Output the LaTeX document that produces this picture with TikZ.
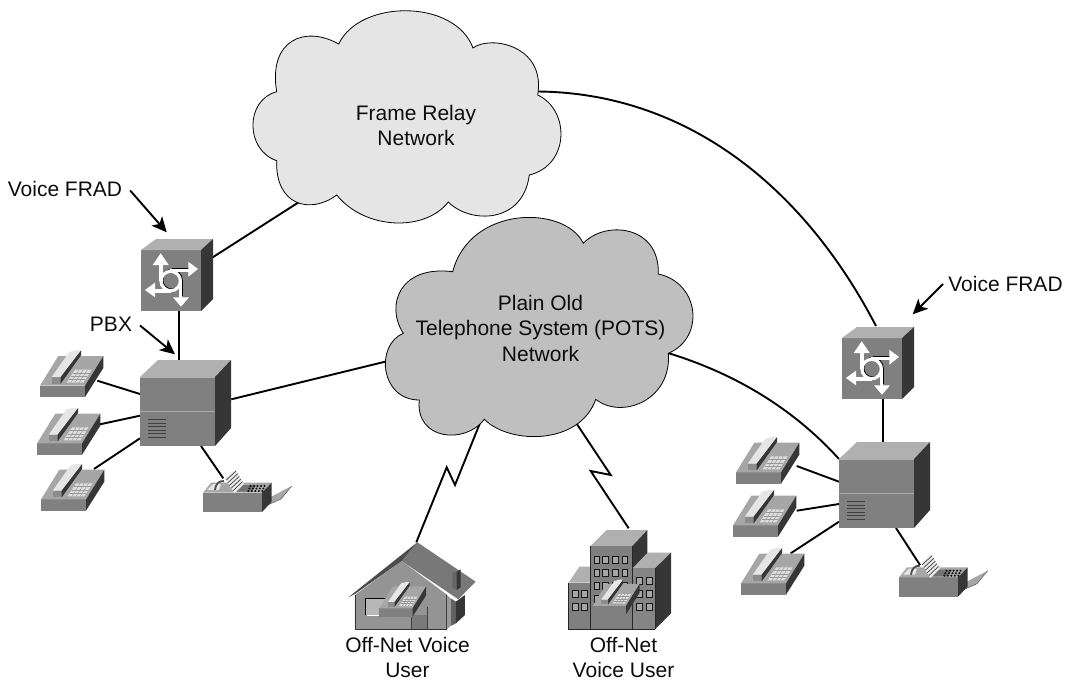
\documentclass[tikz,border=0pt]{standalone}
\usepackage{fontspec}
\setmainfont{Liberation Sans}
\usetikzlibrary{arrows.meta,backgrounds}
\definecolor{cfront}{HTML}{808080}
\definecolor{ctop}{HTML}{B0B0B0}
\definecolor{cside}{HTML}{363636}
\definecolor{cphone}{HTML}{A6A6A6}
\tikzset{
  wire/.style={line width=1.9pt,black},
  callout/.style={line width=1.9pt,black,-{Stealth[length=15pt,width=14pt,inset=4pt]}},
  cloudshape/.style={draw=black,line width=0.8pt},
  txt/.style={font=\fontsize{21}{25.5}\selectfont,align=center,inner sep=0pt,outer sep=0pt,text=black!95},
  dev/.style 2 args={minimum width=#1pt,minimum height=#2pt,anchor=north west,inner sep=0pt,outer sep=0pt},
  devsw/.style 2 args={minimum width=#1pt,minimum height=#2pt,anchor=south west,inner sep=0pt,outer sep=0pt},
  phoneicon/.pic={
    \fill[cfront] (0,-11.3) rectangle (45,0);
    \fill[cphone] (0,-11.3)--(45,-11.3)--(63.3,-41)--(18.3,-41)--cycle;
    \fill[cside] (45,-11.3)--(63.3,-41)--(63.3,-29)--(45,0)--cycle;
    \fill[black!13] (26.7,-14.3)--(43.3,-14.3)--(51.6,-27.3)--(35,-27.3)--cycle;
    \foreach \t in {0.25,0.5,0.75}{
      \draw[black!40,line width=0.45pt] (26.7+8.3*\t,-14.3-13*\t)--(43.3+8.3*\t,-14.3-13*\t);
      \draw[black!40,line width=0.45pt] (26.7+16.6*\t,-14.3)--(35+16.6*\t,-27.3);
    }
    \fill[black!45] (11.7,-20)--(20.7,-20)--(20.7,-13.3)--(11.7,-13.3)--cycle;
    \fill[black!10] (11.7,-20)--(29.3,-45)--(36.7,-47)--(41,-46.5)--(20.7,-20)--cycle;
    \fill[cside] (20.7,-20)--(41,-46.5)--(41,-41.7)--(20.7,-13.3)--cycle;
  },
  faxicon/.pic={
    \fill[black!35] (60,-5)--(60,-11)--(88.7,-26)--(78,-13)--cycle;
    \draw[black!65,line width=0.5pt] (60,-5)--(78,-13)--(88.7,-26);
    \fill[cfront] (0,-19.3) rectangle (59,0);
    \fill[cphone] (0,-19.3)--(59,-19.3)--(68.7,-29.3)--(8,-29.3)--cycle;
    \fill[cside] (59,-19.3)--(68.7,-29.3)--(68.7,-10.3)--(59,0)--cycle;
    \fill[black!55] (38,-27)--(53,-27)--(49,-20.3)--(34,-20.3)--cycle;
    \fill[black!10] (4,-22)--(10,-28)--(18,-28)--(16,-22)--cycle;
    \draw[black!70,line width=1.8pt] (12,-22) .. controls (13,-29) and (16,-31) .. (21,-31);
    \fill[black!8] (22,-33.7)--(32,-42.7)--(41,-28)--(31.3,-18.7)--cycle;
    \foreach \t in {0.12,0.3,0.48,0.66,0.84}{
      \draw[black!75,line width=0.7pt] (22+9.3*\t,-33.7+15*\t)--(32+9*\t,-42.7+14.7*\t);
    }
    \foreach \r in {0,1,2}{\foreach \c in {0,1,2,3,4}{
      \fill[black] (47.5+\c*3.5-\r*1.1,-26+\r*2.5) circle (1.05pt);
    }}
  },
  pbxicon/.pic={
    \fill[cfront] (0,0) rectangle (75,69);
    \fill[ctop] (0,0)--(18,-17)--(91,-17)--(75,0)--cycle;
    \fill[cside] (75,0)--(91,-17)--(91,51)--(75,69)--cycle;
    \draw[black!30,line width=0.6pt] (0,0)--(75,0);
    \draw[black!33,line width=1pt] (0,34.5)--(75,34.5);
    \foreach \v in {42.5,46,49.5,53,56.5,60}{\draw[black!75,line width=0.8pt] (8,\v)--(26,\v);}
  },
  frouter/.pic={
    \fill[cfront] (0,0) rectangle (60,61);
    \fill[ctop] (0,0)--(15,-11)--(72,-11)--(60,0)--cycle;
    \fill[cside] (60,0)--(72,-11)--(72,49)--(60,61)--cycle;
    \begin{scope}[shift={(0.9,-0.8)}]
      \draw[black,line width=2.8pt] (20,16)--(20,31) (30,20.5)--(47,20.5) (14,41)--(30,41) (39.5,31)--(39.5,47);
      \draw[black,line width=2.8pt] (29.7,31) circle (9.7pt);
    \end{scope}
    \draw[white,line width=3.2pt] (20,14)--(20,31) (29,20.5)--(48,20.5) (13,41)--(30,41) (39.5,31)--(39.5,48);
    \draw[white,line width=3.2pt] (29.7,31) circle (9.7pt);
    \fill[white] (19.7,3.3)--(27.7,15)--(11.7,15)--cycle;
    \fill[white] (57,19)--(47.3,11.7)--(47.3,26.7)--cycle;
    \fill[white] (4,40)--(14,32.7)--(14,47.3)--cycle;
    \fill[white] (40,56.7)--(32,47.3)--(48,47.3)--cycle;
  },
  houseicon/.pic={
    \begin{scope}[scale=1/3,shift={(-55,-187)}]
      \fill[black!42] (75,345)--(215,243)--(352,345)--(352,448)--(75,448)--cycle;
      \fill[black!40] (350,345)--(362,355)--(362,438)--(350,448)--cycle;
      \fill[black!62] (362,355)--(378,365)--(378,430)--(362,438)--cycle;
      \fill[cside] (378,365)--(405,345)--(405,405)--(378,430)--cycle;
      \fill[black!28] (107,356) rectangle (170,405);
      \draw[black,line width=0.8pt] (105,406)--(105,355)--(170,355);
      \draw[white,line width=0.8pt] (110,406)--(148,406);
      \fill[black!52] (245,405) rectangle (293,448);
      \draw[black!75,line width=0.5pt] (245,405)--(245,448) (293,380)--(293,448) (350,345)--(350,448);
      \draw[black!80,line width=0.7pt] (75,345)--(75,448)--(350,448);
      \fill[black!53] (262,187)--(437,305)--(385,358)--(215,243)--cycle;
      \fill[black!70] (55,352)--(262,187)--(215,243)--(75,342)--cycle;
      \fill[black!60] (367,278)--(380,276)--(380,330)--(367,322)--cycle;
      \fill[cside] (380,276)--(392,268)--(392,322)--(380,330)--cycle;
    \end{scope}
  },
  buildingicon/.pic={
    \begin{scope}[scale=1/3,shift={(-716,-150)}]
      \fill[ctop] (716,308)--(748,260)--(782,260)--(782,308)--cycle;
      \fill[black!50] (716,308) rectangle (782,448);
      \fill[ctop] (907,265)--(945,218)--(1023,218)--(975,265)--cycle;
      \fill[black!48] (907,265) rectangle (975,448);
      \fill[cside] (975,265)--(1023,218)--(1023,400)--(975,448)--cycle;
      \fill[ctop] (782,198)--(830,150)--(952,150)--(907,198)--cycle;
      \fill[cside] (907,198)--(952,150)--(952,218)--(907,265)--cycle;
      \fill[black!50] (782,198) rectangle (907,448);
      \draw[black!85,line width=0.6pt] (716,308)--(716,448)--(975,448) (782,198)--(782,448) (907,198)--(907,448) (975,265)--(975,448);
      \foreach \wx in {792,818,848,877}{\foreach \wy in {230,268,308,345}{
        \draw[fill=black!35,draw=black!90,line width=0.7pt] (\wx,\wy) rectangle ++(16,21);
      }}
      \foreach \wx in {920,950}{\foreach \wy in {293,332,370}{
        \draw[fill=black!35,draw=black!90,line width=0.7pt] (\wx,\wy) rectangle ++(16,21);
      }}
      \foreach \wx in {728,755}{\foreach \wy in {332,370}{
        \draw[fill=black!35,draw=black!90,line width=0.7pt] (\wx,\wy) rectangle ++(16,21);
      }}
      \fill[black!50] (788,403) rectangle (888,448);
      \draw[black!85,line width=0.6pt] (782,403)--(782,448) (716,448)--(975,448);
    \end{scope}
  }
}
\begin{document}
\begin{tikzpicture}[x=1pt,y=-1pt]
\useasboundingbox (0,0) rectangle (1066,680);
% clouds
\draw[cloudshape,fill=black!10] (338.7,44) .. controls (360,-1) and (455,-1) .. (473,48)
  .. controls (490,35) and (546,45) .. (537.7,95)
  .. controls (570,110) and (570,165) .. (529.3,175)
  .. controls (523,224) and (470,224) .. (448.3,202)
  .. controls (425,232) and (365,230) .. (336.7,195)
  .. controls (310,215) and (275,205) .. (276.7,160.7)
  .. controls (245,150) and (245,100) .. (276.7,91.7)
  .. controls (268,40) and (305,25) .. cycle;
\draw[cloudshape,fill=black!25] (452.7,271.7) .. controls (470,205) and (565,205) .. (583.3,243.3)
  .. controls (605,220) and (660,225) .. (658.3,274)
  .. controls (700,283) and (705,338) .. (668.3,353.3)
  .. controls (672,400) and (622,420) .. (595.7,399.3)
  .. controls (580,445) and (510,445) .. (484.3,419.3)
  .. controls (465,445) and (415,440) .. (419.3,400)
  .. controls (380,400) and (375,345) .. (403.3,333.3)
  .. controls (385,305) and (400,265) .. cycle;
% text
\node[txt] (frameT) at (416,125.5) {Frame Relay\\Network};
\node[txt] (potsT) at (540.5,328) {Plain Old\\Telephone System (POTS)\\Network};
\node[txt,anchor=base] (lblA) at (65,196) {Voice FRAD};
\node[txt,anchor=base] (lblB) at (111,331.7) {PBX};
\node[txt,anchor=base] (lblC) at (1005.5,291.5) {Voice FRAD};
\node[txt] (houseT) at (407.5,657.5) {Off-Net Voice\\User};
\node[txt] (bldgT) at (623.5,657.5) {Off-Net\\Voice User};
% devices
\node[dev={60}{61}] (frA) at (141,250) {};
\node[dev={75}{69}] (pbxA) at (140,377) {};
\node[devsw={45}{41}] (phA1) at (40,397) {};
\node[devsw={45}{41}] (phA2) at (37,454.7) {};
\node[devsw={45}{41}] (phA3) at (41,510.7) {};
\node[devsw={59}{19}] (faxA) at (203,512) {};
\node[dev={60}{60}] (frB) at (842,338) {};
\node[dev={75}{69}] (pbxB) at (839,459) {};
\node[devsw={45}{41}] (phB1) at (736,483.7) {};
\node[devsw={45}{41}] (phB2) at (733,536.7) {};
\node[devsw={45}{41}] (phB3) at (741,594.7) {};
\node[devsw={59}{19}] (faxB) at (899,596.7) {};
\node[dev={128}{87}] (house) at (348.3,542.3) {};
\node[dev={102}{99}] (bldg) at (568.7,530) {};
% icons
\pic at (frA.north west) {frouter};
\pic at (frB.north west) {frouter};
\pic at (pbxA.north west) {pbxicon};
\pic at (pbxB.north west) {pbxicon};
\pic at (phA1.south west) {phoneicon};
\pic at (phA2.south west) {phoneicon};
\pic at (phA3.south west) {phoneicon};
\pic at (phB1.south west) {phoneicon};
\pic at (phB2.south west) {phoneicon};
\pic at (phB3.south west) {phoneicon};
\pic at (faxA.south west) {faxicon};
\pic at (faxB.south west) {faxicon};
\pic at (house.north west) {houseicon};
\pic[scale=0.74] at ([shift={(31,74.4)}]house.north west) {phoneicon};
\pic at (bldg.north west) {buildingicon};
\pic[scale=0.74] at ([shift={(24,84.3)}]bldg.north west) {phoneicon};
% connectors
\begin{pgfonlayer}{background}
\fill[white] (0,0) rectangle (1066,680);
\draw[wire] ([shift={(11.7,7.3)}]frA.north east) -- ([shift={(-113,74)}]frameT.center);
\draw[wire] ([shift={(8,0)}]frA.south) -- ([shift={(1.5,0)}]pbxA.north);
\draw[wire] ([shift={(16.3,22.3)}]pbxA.north east) -- ([shift={(-152.5,33)}]potsT.center);
\draw[wire] ([shift={(57.3,-16.3)}]phA1.south west) -- ([shift={(0,17)}]pbxA.north west);
\draw[wire] ([shift={(63,-30.4)}]phA2.south west) -- ([shift={(0,38.7)}]pbxA.north west);
\draw[wire] ([shift={(53,-41.7)}]phA3.south west) -- ([shift={(0,61.3)}]pbxA.north west);
\draw[wire] ([shift={(61,0)}]pbxA.south west) -- ([shift={(20.3,-33.7)}]faxA.south west);
\draw[wire] ([shift={(120,-34)}]frameT.center) .. controls (680,92) and (800,180) .. ([shift={(4,-12)}]frB.north);
\draw[wire] ([shift={(10.7,0)}]frB.south) -- ([shift={(6.2,0)}]pbxB.north);
\draw[wire] ([shift={(127.5,25)}]potsT.center) .. controls (730,372) and (790,405) .. (pbxB.north west);
\draw[wire] ([shift={(60.7,-17.7)}]phB1.south west) -- ([shift={(0,22.7)}]pbxB.north west);
\draw[wire] ([shift={(63.7,-26)}]phB2.south west) -- ([shift={(0,45)}]pbxB.north west);
\draw[wire] ([shift={(49.7,-41.4)}]phB3.south west) -- ([shift={(0,62.7)}]pbxB.north west);
\draw[wire] ([shift={(57,0)}]pbxB.south west) -- ([shift={(21,-31.7)}]faxB.south west);
\draw[wire,line join=miter] ([shift={(-60.5,95)}]potsT.center) -- (455,485) -- (446.7,467.3) -- ([shift={(4,0)}]house.north);
\draw[wire,line join=miter] ([shift={(35.2,94.3)}]potsT.center) -- (610.7,475) -- (590.7,471) -- ([shift={(9,-1.7)}]bldg.north);
\end{pgfonlayer}
% callouts
\draw[callout] ([shift={(8,2)}]lblA.east) -- ([shift={(-4.3,-17.7)}]frA.north);
\draw[callout] ([shift={(8,1)}]lblB.east) -- ([shift={(-2.5,-22.7)}]pbxA.north);
\draw[callout] ([shift={(-5.3,0)}]lblC.west) -- ([shift={(40.7,-23.7)}]frB.north);
\end{tikzpicture}
\end{document}
